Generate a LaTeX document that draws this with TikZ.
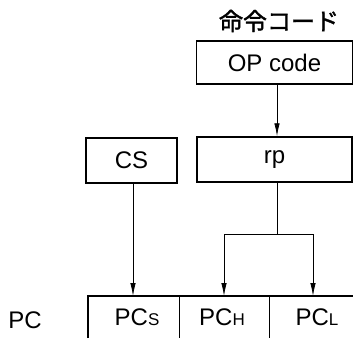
\documentclass[tikz,border=0pt]{standalone}
\usepackage{fontspec}
\setmainfont{Liberation Sans}
\newfontfamily\jpfont[FakeBold=1.5]{Noto Sans CJK JP}
\usetikzlibrary{arrows.meta}
\newcommand{\smallsub}[1]{{\fontsize{17}{17}\selectfont #1}}
\begin{document}
\begin{tikzpicture}[x=1pt,y=-1pt,
  font=\fontsize{24}{28}\selectfont,
  box/.style={draw,line width=1.5pt,inner sep=0pt},
  conn/.style={line width=0.8pt},
  arr/.style={conn,-{Latex[length=13pt,width=5.5pt]}},
  lbl/.style={inner sep=0pt}]
\useasboundingbox (0,0) rectangle (353,338);
\node[lbl] (jp) at (279,21) {\fontsize{24}{28}\selectfont\jpfont 命令コード};
\node[box,minimum width=156pt,minimum height=43pt] (op) at (274.5,62.5) {OP code};
\node[box,minimum width=155pt,minimum height=45pt] (rp) at (274.5,159.5) {rp};
\node[box,minimum width=91pt,minimum height=45pt] (cs) at (131.5,160.5) {CS};
\coordinate (ts) at (133,296);
\coordinate (th) at (224,296);
\coordinate (tl) at (313,296);
\coordinate (j) at (277,234);
\draw[arr] (op.south -| j) -- (rp.north -| j);
\draw[arr] (cs.south -| ts) -- (ts);
\draw[arr] (rp.south -| j) -- (j) -| (th);
\draw[arr] (j) -| (tl);
\draw[line width=1.5pt] (88,338) -- (88,296) -- (353,296);
\draw[conn] (179,296) -- (179,338);
\draw[conn] (269,296) -- (269,338);
\node[lbl] (pc) at (25,320) {PC};
\node[lbl] (pcs) at (137,317) {PC\smallsub{S}};
\node[lbl] (pch) at (222,317) {PC\smallsub{H}};
\node[lbl] (pcl) at (317,317) {PC\smallsub{L}};
\end{tikzpicture}
\end{document}
